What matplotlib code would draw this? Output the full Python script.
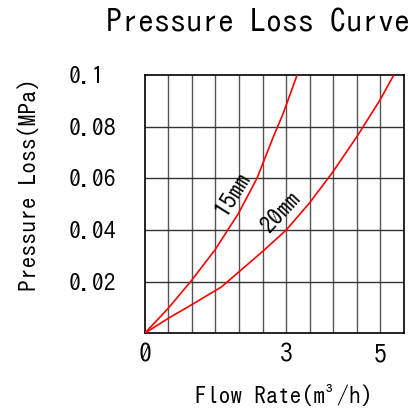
import matplotlib
matplotlib.use("Agg")
import matplotlib.pyplot as plt

# Data
flow_15 = [0.0, 0.5, 0.99, 1.49, 1.99, 2.38, 2.73, 2.94, 3.23]
loss_15 = [0.0, 0.0097, 0.0204, 0.0323, 0.0465, 0.060, 0.0762, 0.0853, 0.100]
flow_20 = [0.0, 0.5, 0.99, 1.63, 2.5, 3.0, 3.49, 3.97, 4.5, 4.99, 5.28]
loss_20 = [0.0, 0.0058, 0.011, 0.018, 0.0317, 0.040, 0.0504, 0.062, 0.0762, 0.0904, 0.100]
xticks = [0, 3, 5]
xtick_labels = ["0", "3", "5"]
yticks = [0.02, 0.04, 0.06, 0.08, 0.1]
ytick_labels = ["0.02", "0.04", "0.06", "0.08", "0.1"]
series_labels = ["15mm", "20mm"]

plt.rcParams['font.family'] = ['IPAGothic', 'DejaVu Sans']

fig = plt.figure(figsize=(4.17, 4.13), dpi=100)
ax = fig.add_axes([0.347, 0.193, 0.622, 0.625])

ax.set_xlim(0, 5.5)
ax.set_ylim(0, 0.1)
for i in range(1, 11):
    ax.axvline(i * 0.5, color="#555555", lw=1.0, zorder=1)
for v in yticks[:-1]:
    ax.axhline(v, color="#333333", lw=1.0, zorder=1)
for s in ax.spines.values():
    s.set_color("black")
    s.set_linewidth(1.2)

ax.plot(flow_15, loss_15, color="red", lw=1.2, zorder=3)
ax.plot(flow_20, loss_20, color="red", lw=1.2, zorder=3)

ax.text(1.845, 0.0543, series_labels[0], rotation=58, ha="center", va="center",
        fontsize=17, zorder=4, rotation_mode="anchor")
ax.text(2.87, 0.0471, series_labels[1], rotation=47, ha="center", va="center",
        fontsize=17, zorder=4, rotation_mode="anchor")

ax.set_xticks(xticks)
ax.set_xticklabels(xtick_labels, fontsize=18.5)
ax.set_yticks(yticks)
ax.set_yticklabels(ytick_labels, fontsize=17)
ax.tick_params(axis="both", length=0)
ax.tick_params(axis="x", pad=7)
ax.tick_params(axis="y", pad=55)
for lbl in ax.get_yticklabels():
    lbl.set_horizontalalignment("left")

ax.set_xlabel("Flow Rate(m³/h)", fontsize=17)
ax.xaxis.set_label_coords(0.537, -0.239)
ax.xaxis.label.set_verticalalignment("center")
ax.set_ylabel("Pressure Loss(MPa)", fontsize=17)
ax.yaxis.set_label_coords(-0.45, 0.575)
ax.yaxis.label.set_verticalalignment("center")

fig.text(0.619, 0.947, "Pressure Loss Curve", fontsize=23, ha="center", va="center")

fig.savefig("out.png", dpi=100, facecolor="white")
